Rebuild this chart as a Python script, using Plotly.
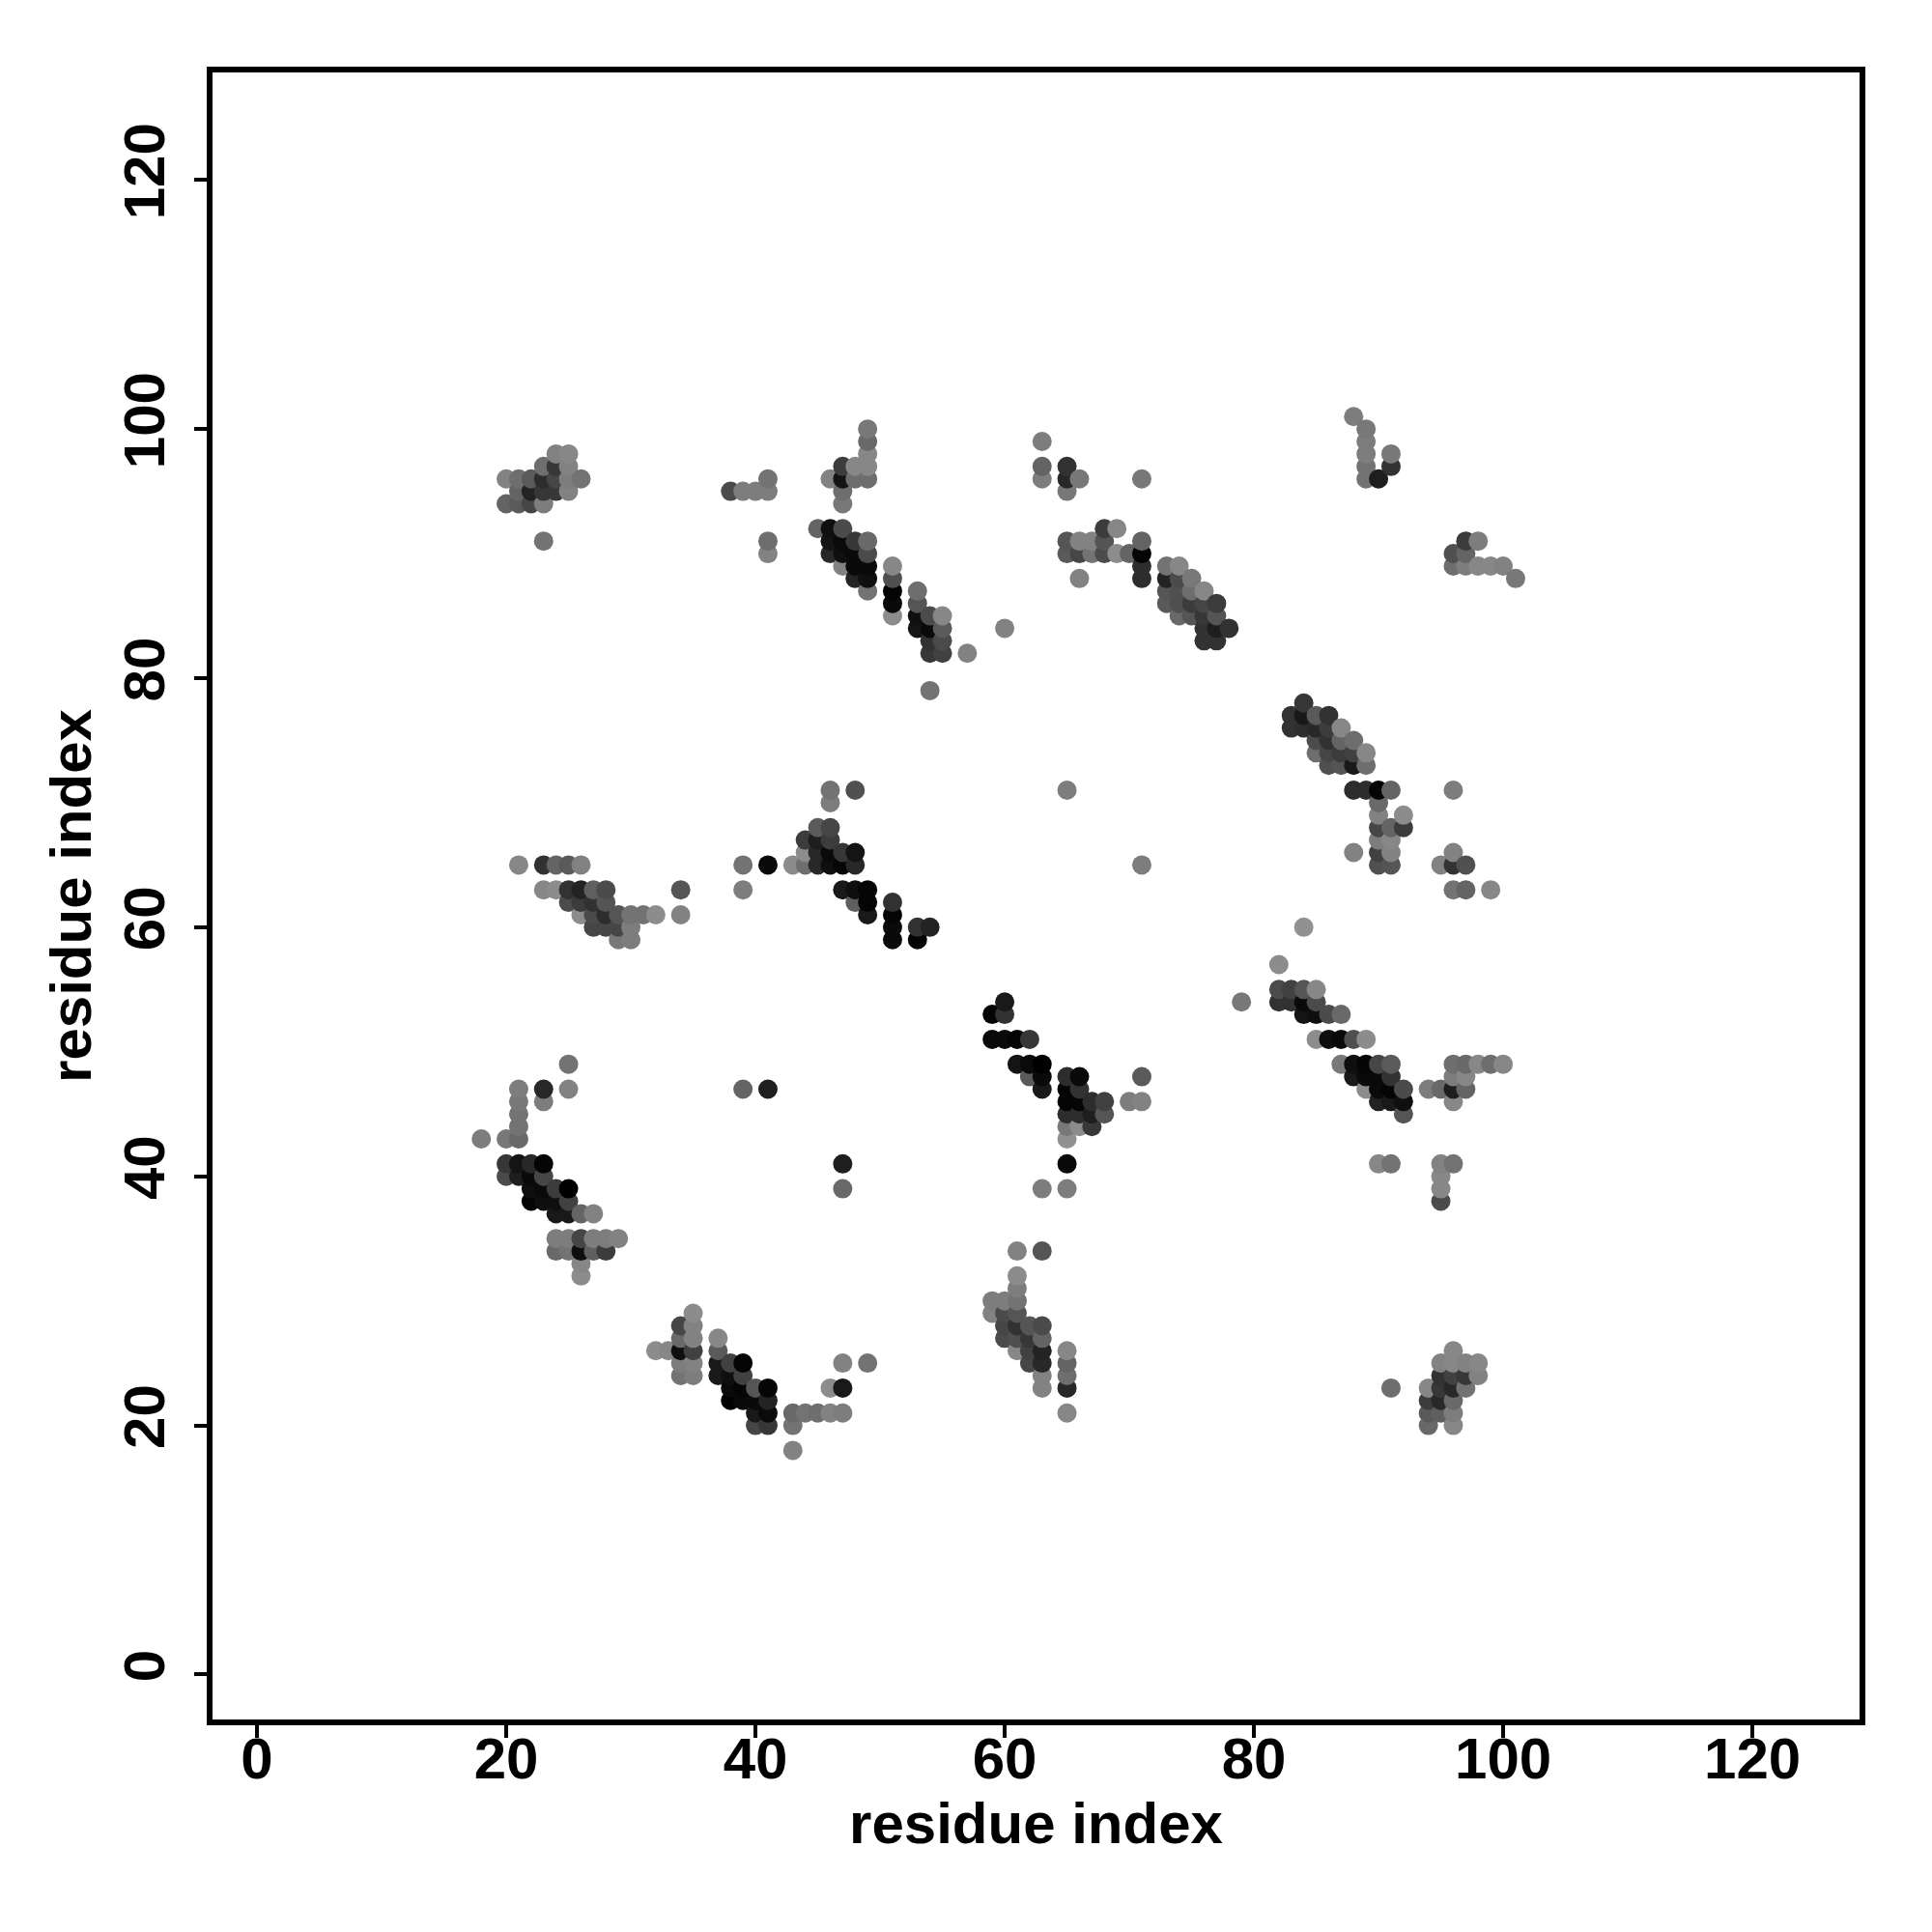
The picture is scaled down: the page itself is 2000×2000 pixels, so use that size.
import plotly.graph_objects as go

# Each contact: (residue i, residue j, gray level)
contacts_a = [(18,43,125),(20,43,120),(21,43,105),(21,44,115),(21,45,115),(21,46,120),(21,47,125),(23,47,40),(23,46,125),(25,49,115),(25,47,130),
 (20,41,55),(21,41,20),(22,41,40),(23,41,5),(20,40,75),(21,40,30),(22,40,10),(23,40,70),(22,39,15),(23,39,10),(24,39,60),(25,39,0),
 (22,38,5),(23,38,15),(24,38,15),(25,38,65),(24,37,25),(25,37,25),(26,37,100),(27,37,130),
 (24,35,125),(25,35,125),(26,35,70),(27,35,125),(28,35,125),(29,35,130),(24,34,105),(25,34,115),(26,34,15),(27,34,95),(28,34,60),(26,33,135),(26,32,140)]
contacts_b = [(32,26,140),(33,26,135),(34,28,70),(34,27,105),(34,26,15),(34,25,125),(34,24,115),(35,29,140),(35,28,130),(35,27,130),(35,26,65),(35,25,130),(35,24,125),
 (37,27,135),(37,26,90),(37,25,25),(37,24,25),(38,25,65),(38,24,15),(38,23,10),(38,22,0),(39,25,5),(39,24,65),(39,23,5),(39,22,10),(40,23,85),(40,22,10),(40,21,25),(40,20,70),
 (41,23,5),(41,22,35),(41,21,10),(41,20,55),(43,21,105),(43,20,115),(43,18,130),(44,21,115),(45,21,110),(46,21,130),(47,21,125),(46,23,140),(47,23,25),(47,25,130),(49,25,115)]
contacts_c = [(59,53,5),(60,54,25),(60,53,50),(59,51,10),(60,51,10),(61,51,5),(62,51,55),(61,49,20),(62,49,10),(63,49,0),(62,48,90),(63,48,10),(63,47,25),
 (65,48,45),(66,48,10),(65,47,5),(66,47,50),(65,46,5),(66,46,5),(67,46,45),(68,46,65),(65,45,45),(66,45,45),(67,45,30),(68,45,85),(65,44,120),(66,44,140),(67,44,55),(65,43,145),
 (65,41,10),(63,39,125),(65,39,125),(71,48,90),(70,46,125),(71,46,130),(47,41,30),(47,39,105),(39,47,100),(41,47,30)]
contacts_d = [(61,34,130),(63,34,85),(61,32,140),(61,31,125),(59,30,125),(60,30,125),(61,30,115),(59,29,130),(60,29,75),(61,29,85),(60,28,70),(61,28,50),(62,28,85),(63,28,75),
 (60,27,75),(61,27,80),(62,27,55),(63,27,100),(61,26,135),(62,26,65),(63,26,35),(62,25,70),(63,25,40),(63,24,130),(63,23,130),(65,26,135),(65,25,100),(65,24,110),(65,23,40),(65,21,135)]
contacts_e = [(84,60,145),(82,57,140),(79,54,120),(82,55,75),(83,55,65),(84,55,85),(85,55,135),(82,54,50),(83,54,50),(84,54,10),(85,54,75),(84,53,20),(85,53,15),(86,53,75),(87,53,105),
 (85,51,140),(86,51,15),(87,51,10),(88,51,80),(89,51,140),(87,49,120),(88,49,15),(89,49,5),(90,49,70),(91,49,90),(88,48,25),(89,48,10),(90,48,10),(91,48,50),
 (89,47,140),(90,47,10),(91,47,5),(92,47,75),(90,46,35),(91,46,25),(92,46,15),(92,45,85),
 (94,47,125),(95,47,105),(96,47,30),(97,47,100),(96,46,135),(96,48,125),(97,48,135),(96,49,110),(97,49,105),(98,49,135),(99,49,110),(100,49,135),
 (90,41,135),(91,41,115),(95,41,130),(96,41,115),(95,40,135),(95,39,135),(95,38,75)]
contacts_f = [(91,23,110),(94,23,135),(94,22,60),(94,21,90),(94,20,105),(95,25,130),(95,24,50),(95,23,55),(95,22,40),(95,21,95),(96,26,135),(96,25,135),(96,24,65),(96,23,40),(96,22,105),(96,21,125),(96,20,135),
 (97,25,130),(97,24,55),(97,23,115),(98,25,135),(98,24,130)]
contacts_g = [(21,65,135),(23,65,50),(24,65,100),(25,65,90),(26,65,130),(23,63,135),(24,63,140),(25,63,50),(26,63,35),(27,63,95),(28,63,75),(34,63,85),(25,62,75),(26,62,60),(27,62,50),(28,62,85),
 (26,61,140),(27,61,75),(28,61,45),(29,61,85),(30,61,115),(31,61,115),(32,61,140),(34,61,130),(27,60,70),(28,60,70),(29,60,70),(30,60,125),(29,59,120),(30,59,125)]
contacts_h = [(39,65,115),(39,63,125),(41,65,10),(43,65,140),(44,65,110),(45,65,40),(46,65,15),(47,65,5),(48,65,40),(44,66,140),(45,66,40),(46,66,10),(47,66,55),(48,66,20),(44,67,60),(45,67,30),(46,67,60),(45,68,90),(46,68,70),
 (46,71,115),(46,70,125),(48,71,80),(47,63,25),(48,63,15),(49,63,5),(48,62,95),(49,62,5),(51,62,50),(49,61,25),(51,61,5),(51,60,10),(53,60,50),(54,60,35),(51,59,10),(53,59,5)]
contacts_i = [(84,78,55),(83,77,50),(84,77,25),(85,77,90),(86,77,50),(83,76,50),(84,76,45),(85,76,40),(86,76,60),(87,76,135),(85,75,75),(86,75,50),(87,75,100),(88,75,110),
 (85,74,110),(86,74,70),(87,74,60),(88,74,65),(89,74,135),(86,73,80),(87,73,85),(88,73,25),(89,73,110),(88,71,45),(89,71,45),(90,71,5),(91,71,100),(96,71,125),
 (90,70,105),(90,69,130),(92,69,140),(90,68,70),(91,68,100),(92,68,60),(90,67,125),(91,67,135),(88,66,130),(90,66,65),(91,66,130),(90,65,80),(91,65,85),
 (95,65,130),(96,66,130),(96,65,50),(97,65,80),(96,63,115),(97,63,100),(99,63,135),(65,71,125),(71,65,125)]
contacts_j = [(68,92,60),(69,92,135),(65,91,85),(66,91,130),(67,91,130),(68,91,85),(71,91,100),(65,90,90),(66,90,70),(67,90,115),(68,90,75),(69,90,140),(70,90,100),(71,90,5),(71,89,45),(66,88,130),(71,88,45),
 (73,89,115),(74,89,135),(73,88,35),(74,88,75),(75,88,120),(73,87,85),(74,87,80),(75,87,110),(76,87,135),(73,86,90),(74,86,80),(75,86,60),(76,86,70),(77,86,60),
 (74,85,105),(75,85,85),(76,85,55),(77,85,85),(76,84,50),(77,84,30),(78,84,50),(76,83,50),(77,83,50)]
contacts_k = [(45,92,100),(46,92,15),(47,92,75),(46,91,20),(47,91,10),(48,91,55),(49,91,105),(46,90,40),(47,90,15),(48,90,10),(49,90,75),(47,89,130),(48,89,10),(49,89,10),(48,88,35),(49,88,15),(49,87,115),
 (51,89,135),(51,88,80),(51,87,5),(51,86,10),(51,85,140),(53,87,110),(53,86,85),(53,85,15),(53,84,20),(54,85,75),(54,84,10),(54,83,50),(54,82,55),(55,85,135),(55,84,90),(55,83,75),(55,82,65),(57,82,130),(60,84,130),(54,79,115)]
contacts_l = [(24,98,130),(25,98,135),(23,97,110),(24,97,55),(25,97,130),(20,96,130),(21,96,110),(22,96,90),(23,96,45),(24,96,70),(25,96,125),(26,96,115),(21,95,100),(22,95,35),(23,95,55),(24,95,55),(25,95,130),
 (20,94,100),(21,94,90),(22,94,70),(23,94,125),(23,91,115),(38,95,75),(39,95,125),(40,95,125),(41,95,125),(41,96,115),(41,91,110),(41,90,130)]
contacts_m = [(46,96,130),(47,97,60),(47,96,20),(47,95,110),(47,94,120),(48,97,135),(48,96,110),(49,100,120),(49,99,105),(49,98,135),(49,97,135),(49,96,110),
 (63,99,125),(63,97,100),(63,96,125),(65,97,50),(65,96,40),(65,95,120),(66,96,120),(71,96,120),
 (88,101,125),(89,100,120),(89,99,125),(89,98,125),(89,97,115),(89,96,115),(90,96,30),(91,98,120),(91,97,50),
 (96,90,80),(96,89,110),(97,91,60),(97,90,100),(97,89,125),(98,91,125),(98,89,135),(99,89,135),(100,89,130),(101,88,120)]

tick_values = [0, 20, 40, 60, 80, 100, 120]
axis_label = "residue index"

contacts = sorted(contacts_a + contacts_b + contacts_c + contacts_d + contacts_e + contacts_f + contacts_g
                  + contacts_h + contacts_i + contacts_j + contacts_k + contacts_l + contacts_m)
xs = [c[0] for c in contacts]
ys = [c[1] for c in contacts]
colors = [f"rgb({c[2]},{c[2]},{c[2]})" for c in contacts]

font = dict(family="Liberation Sans", size=60, color="black", weight="bold")
axis = dict(tickvals=tick_values, ticks="outside", ticklen=13, tickwidth=4, tickcolor="black",
            showline=True, mirror=True, linecolor="black", linewidth=6, showgrid=False, zeroline=False,
            tickfont=font, title_font=font)

fig = go.Figure(go.Scatter(x=xs, y=ys, mode="markers", cliponaxis=True,
                           marker=dict(size=20, color=colors, line=dict(width=0))))
fig.update_layout(width=2000, height=2000, autosize=False, showlegend=False,
                  paper_bgcolor="white", plot_bgcolor="white",
                  margin=dict(l=220, r=75, t=75, b=220, autoexpand=False))
fig.update_xaxes(range=[-3.57, 128.6], title_text=axis_label, title_standoff=9, ticklabelstandoff=-30, **axis)
fig.update_yaxes(range=[-3.61, 128.63], title_text=axis_label, title_standoff=4, ticklabelstandoff=7, tickangle=-90, **axis)
fig.write_html("out.html", config={"displayModeBar": False}, post_script="document.body.style.margin='0';")
